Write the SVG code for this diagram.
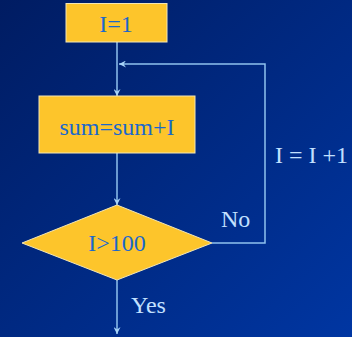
<svg xmlns="http://www.w3.org/2000/svg" width="352" height="337" viewBox="0 0 352 337">
<defs>
<linearGradient id="bg" x1="0" y1="0" x2="1" y2="1">
<stop offset="0" stop-color="#001c62"/>
<stop offset="1" stop-color="#0036a2"/>
</linearGradient>
<marker id="arr" viewBox="0 0 10 10" refX="10" refY="5" markerWidth="7" markerHeight="7" orient="auto" markerUnits="userSpaceOnUse">
<path d="M0,0 L10,5 L0,10 L3.5,5 z" fill="#a8d4f8"/>
</marker>
<style>
.box{fill:#fdc52b;stroke:#f3e6b4;stroke-width:1}
.in{font-family:"Liberation Serif","Times New Roman",serif;font-size:24px;fill:#1a68cc;text-anchor:middle}
.lbl{font-family:"Liberation Serif","Times New Roman",serif;font-size:24px;fill:#c2e0ff}
.c{fill:none;stroke:#8fc2ee;stroke-width:1.5}
</style>
</defs>
<rect width="352" height="337" fill="url(#bg)"/>
<g id="connectors">
<line class="c" x1="117" y1="42" x2="117" y2="96" marker-end="url(#arr)"/>
<line class="c" x1="117" y1="153" x2="117" y2="205" marker-end="url(#arr)"/>
<polyline class="c" points="212,243 265,243 265,64 119,64" marker-end="url(#arr)"/>
<line class="c" x1="117" y1="280" x2="117" y2="334" marker-end="url(#arr)"/>
</g>
<g id="init">
<rect class="box" x="66" y="3.5" width="101" height="38.5"/>
<text class="in" x="116" y="32">I=1</text>
</g>
<g id="sum">
<rect class="box" x="39" y="96" width="156" height="57"/>
<text class="in" x="117" y="135">sum=sum+I</text>
</g>
<g id="cond">
<polygon class="box" points="22,243 117,205 212,243 117,280"/>
<text class="in" x="117" y="251">I&gt;100</text>
</g>
<g id="labels">
<text class="lbl" x="221" y="227">No</text>
<text class="lbl" x="275" y="163">I = I +1</text>
<text class="lbl" x="131" y="313">Yes</text>
</g>
</svg>
